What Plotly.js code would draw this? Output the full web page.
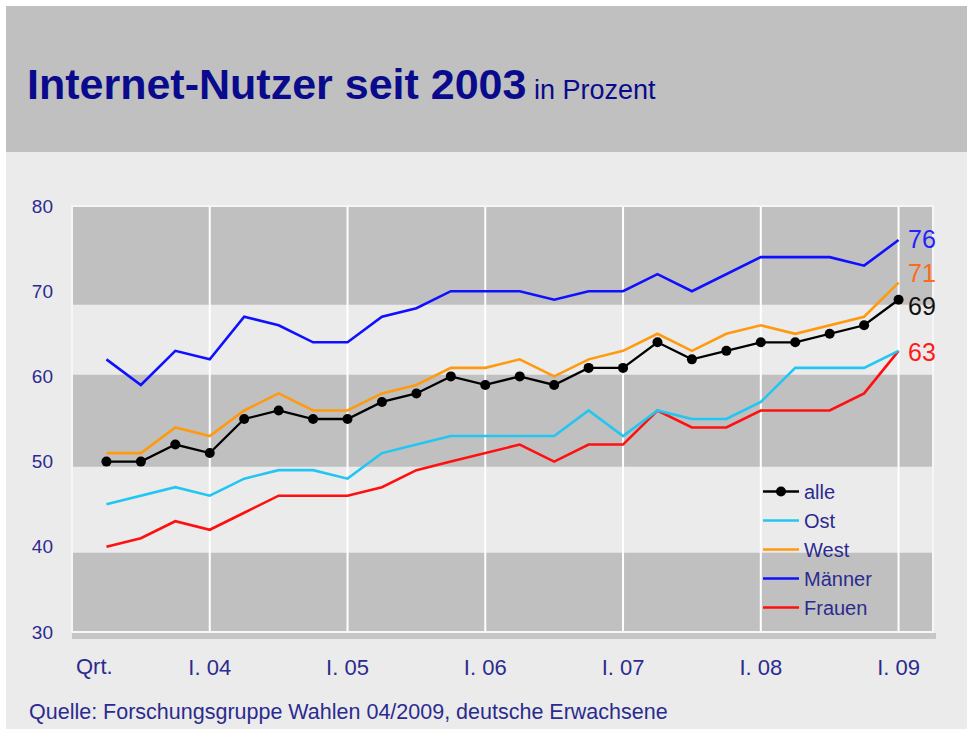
<!DOCTYPE html>
<html>
<head>
<meta charset="utf-8">
<script src="https://cdn.plot.ly/plotly-3.0.1.min.js"></script>
<style>html,body{margin:0;padding:0;background:#fff;}#chart{width:967px;height:729px;}</style>
</head>
<body>
<div id="chart"></div>
<script>
// ---- data ----
const quarters = ["II.03","III.03","IV.03","I.04","II.04","III.04","IV.04","I.05","II.05","III.05","IV.05","I.06",
                  "II.06","III.06","IV.06","I.07","II.07","III.07","IV.07","I.08","II.08","III.08","IV.08","I.09"];
const firstLabel = "Qrt.";
const tickQuarters = ["I.04","I.05","I.06","I.07","I.08","I.09"];
const tickLabels = ["I. 04","I. 05","I. 06","I. 07","I. 08","I. 09"];
const alle   = [50,50,52,51,55,56,55,55,57,58,60,59,60,59,61,61,64,62,63,64,64,65,66,69];
const ost    = [45,46,47,46,48,49,49,48,51,52,53,53,53,53,56,53,56,55,55,57,61,61,61,63];
const west   = [51,51,54,53,56,58,56,56,58,59,61,61,62,60,62,63,65,63,65,66,65,66,67,71];
const maenner= [62,59,63,62,67,66,64,64,67,68,70,70,70,69,70,70,72,70,72,74,74,74,73,76];
const frauen = [40,41,43,42,44,46,46,46,47,49,50,51,52,50,52,52,56,54,54,56,56,56,58,63];
const seriesNames = ["alle","Ost","West","Männer","Frauen"];
const yTicks = [30,40,50,60,70,80];
const lightBands = [[39.3,49.4],[60.2,68.4]];

// ---- layout helpers ----
const W = 967, H = 729;
const M = {l:72, r:34, t:206, b:97};
const PW = W - M.l - M.r, PH = H - M.t - M.b;
const px2x = p => (p - M.l) / PW;
const px2y = q => (H - M.b - q) / PH;
const FONT = "Liberation Sans, Arial, sans-serif";
const NAVY = "#2b2b8f";

const colors = {alle:"#000000", Ost:"#22c6f2", West:"#ff9a10", "Männer":"#1010ff", Frauen:"#ff1010"};
const dataMap = {alle:alle, Ost:ost, West:west, "Männer":maenner, Frauen:frauen};

const traces = [];
// add in reverse so "alle" is drawn on top; legendrank keeps legend order
for (let i = seriesNames.length - 1; i >= 0; i--) {
  const n = seriesNames[i];
  const t = {
    type: "scatter", x: quarters, y: dataMap[n], name: n, legendrank: i + 1,
    mode: n === "alle" ? "lines+markers" : "lines",
    line: {color: colors[n], width: n === "alle" ? 2.3 : 2.6},
    hoverinfo: "skip"
  };
  if (n === "alle") t.marker = {color: "#000", size: 10};
  traces.push(t);
}

const shapes = [];
// white outer strips and header
shapes.push({type:"rect", xref:"paper", yref:"paper", x0:px2x(0), x1:px2x(W), y0:px2y(0), y1:px2y(6), fillcolor:"#ffffff", line:{width:0}, layer:"below"});
shapes.push({type:"rect", xref:"paper", yref:"paper", x0:px2x(0), x1:px2x(6), y0:px2y(0), y1:px2y(H), fillcolor:"#ffffff", line:{width:0}, layer:"below"});
shapes.push({type:"rect", xref:"paper", yref:"paper", x0:px2x(6), x1:px2x(W), y0:px2y(6), y1:px2y(152), fillcolor:"#c0c0c0", line:{width:0}, layer:"below"});
// light bands
lightBands.forEach(b => shapes.push({type:"rect", xref:"paper", yref:"y", x0:0, x1:1, y0:b[0], y1:b[1], fillcolor:"#ebebeb", line:{width:0}, layer:"below"}));
// vertical white gridlines at year ticks
tickQuarters.forEach(q => {
  const i = quarters.indexOf(q);
  shapes.push({type:"line", xref:"x", yref:"paper", x0:i, x1:i, y0:0, y1:1, line:{color:"#ffffff", width:2}, layer:"below"});
});
// white edges of plot
shapes.push({type:"rect", xref:"paper", yref:"paper", x0:0, x1:1, y0:0, y1:1, fillcolor:"rgba(0,0,0,0)", line:{color:"#f6f6f6", width:2}, layer:"below"});
// floor strip
shapes.push({type:"rect", xref:"paper", yref:"paper", x0:px2x(72), x1:px2x(936), y0:px2y(639), y1:px2y(633), fillcolor:"#c6c6c6", line:{width:0}, layer:"below"});

const last = quarters.length - 1;
const endLabels = [
  {n:"Männer", c:"#2222ff", ys:1},
  {n:"West", c:"#ff6a1a", ys:10},
  {n:"alle", c:"#111111", ys:-6},
  {n:"Frauen", c:"#ff1a1a", ys:-1}
];
const annotations = endLabels.map(e => ({
  x: quarters[last], y: dataMap[e.n][last], xref:"x", yref:"y",
  text: String(dataMap[e.n][last]), showarrow:false, xanchor:"left", yanchor:"middle",
  xshift: 7, yshift: e.ys, font:{family:FONT, size:25, color:e.c}
}));
annotations.push({
  x: quarters[0], xref:"x", yref:"paper", y: px2y(666), xanchor:"center", yanchor:"middle",
  xshift: -12, text: firstLabel, showarrow:false, font:{family:FONT, size:22, color:NAVY}
});
annotations.push({
  xref:"paper", yref:"paper", x:px2x(27), y:px2y(712), xanchor:"left", yanchor:"middle",
  text:"Quelle: Forschungsgruppe Wahlen 04/2009, deutsche Erwachsene", showarrow:false,
  font:{family:FONT, size:21.5, color:NAVY}
});

const layout = {
  width: W, height: H,
  margin: M,
  paper_bgcolor: "#ebebeb",
  plot_bgcolor: "#c0c0c0",
  showlegend: true,
  title: {
    text: "<b>Internet-Nutzer seit 2003</b><span style='font-size:27px'> in Prozent</span>",
    xref:"container", yref:"container", x: 27/W, xanchor:"left", y: 1 - 84/H, yanchor:"middle",
    font:{family:FONT, size:43, color:"#0a0a8c"}
  },
  xaxis: {
    type:"category", categoryorder:"array", categoryarray: quarters,
    range:[-1, quarters.length], tickmode:"array", tickvals: tickQuarters, ticktext: tickLabels,
    showgrid:false, zeroline:false, showline:false, ticks:"", ticklabelstandoff: 20,
    tickfont:{family:FONT, size:22, color:NAVY}, fixedrange:true
  },
  yaxis: {
    range:[30,80], tickmode:"array", tickvals:yTicks, showgrid:false, zeroline:false, showline:false,
    ticks:"", ticklabelstandoff: 18, tickfont:{family:FONT, size:19, color:NAVY}, fixedrange:true
  },
  legend: {
    x: px2x(758), y: px2y(472), xanchor:"left", yanchor:"top",
    traceorder:"normal",
    bgcolor:"rgba(0,0,0,0)", borderwidth:0,
    font:{family:FONT, size:20, color:NAVY}, itemwidth:36
  },
  shapes: shapes,
  annotations: annotations
};

Plotly.newPlot("chart", traces, layout, {staticPlot:true});
</script>
</body>
</html>
